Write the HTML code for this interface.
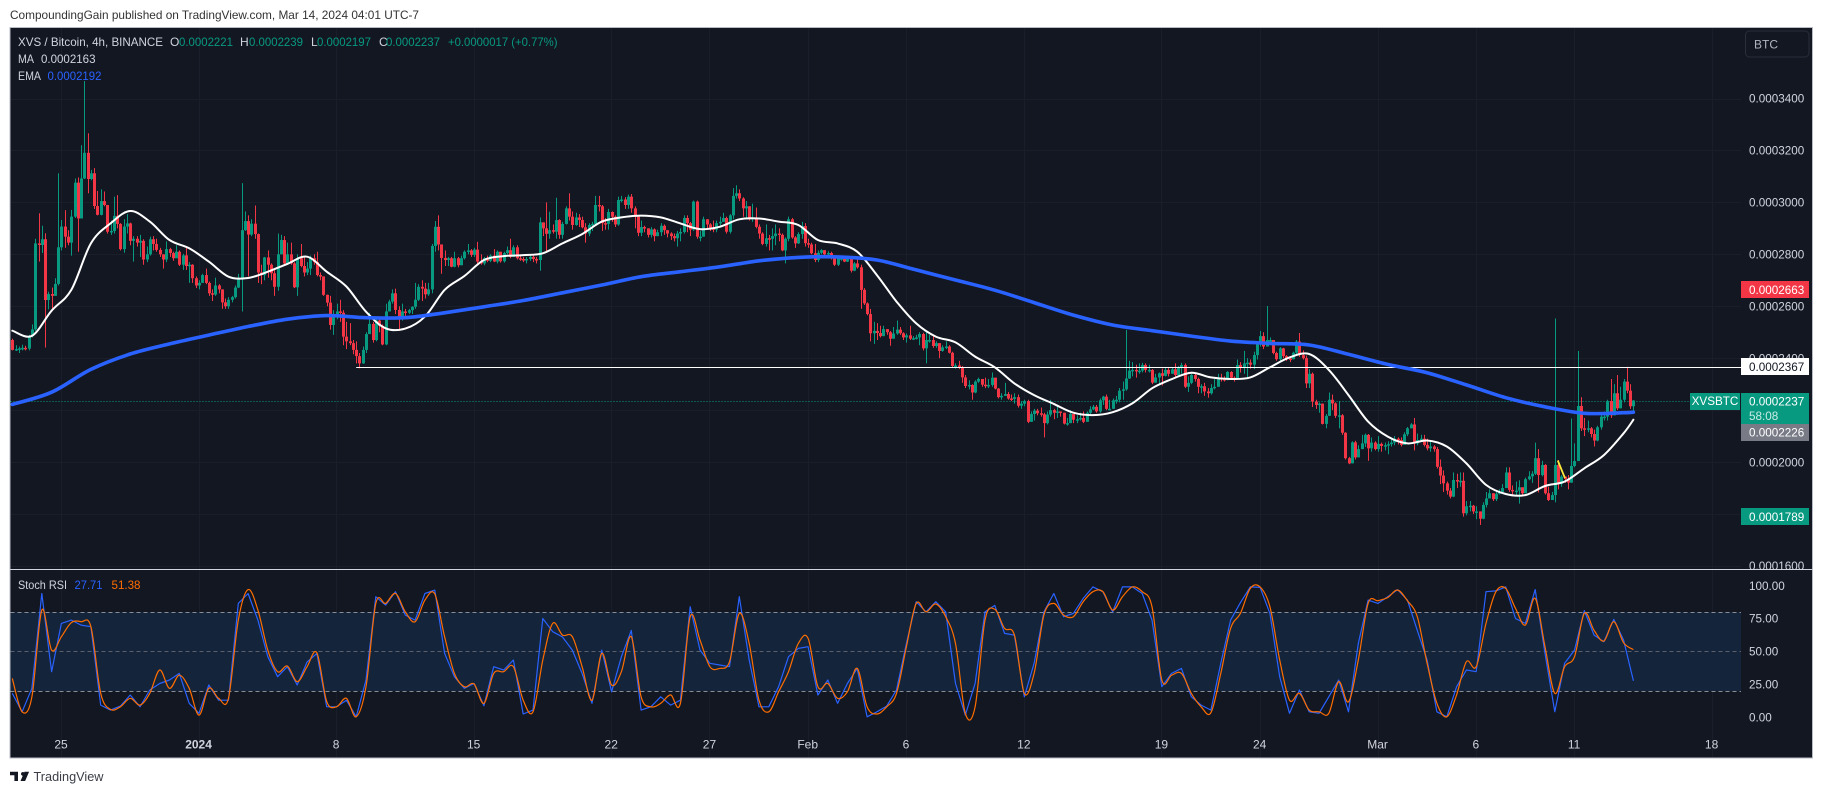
<!DOCTYPE html>
<html lang="en">
<head>
<meta charset="utf-8">
<title>XVS / Bitcoin 4h chart</title>
<style>
  html,body{margin:0;padding:0;background:#fff;width:1823px;height:794px;overflow:hidden}
  svg{display:block}
  text{font-family:"Liberation Sans",sans-serif}
</style>
</head>
<body>
<svg id="chart" xmlns="http://www.w3.org/2000/svg" width="1823" height="794" viewBox="0 0 1823 794">
  <defs>
    <clipPath id="main-clip"><rect x="10" y="28" width="1802" height="541"/></clipPath>
    <clipPath id="stoch-clip"><rect x="10" y="570" width="1802" height="187"/></clipPath>
  </defs>
  <text x="10" y="19" font-size="12" fill="#333" textLength="409" lengthAdjust="spacingAndGlyphs">CompoundingGain published on TradingView.com, Mar 14, 2024 04:01 UTC-7</text>
  <rect x="10" y="27.5" width="1802.5" height="730.5" fill="#131722" stroke="#b8bbc4" stroke-width="1"/>
  <g id="grid"></g>
  <g id="main-pane" clip-path="url(#main-clip)"></g>
  <g id="stoch-pane" clip-path="url(#stoch-clip)"></g>
  <rect x="10" y="569" width="1802.5" height="1" fill="#d1d4dc"/>
  <g id="axis"></g>

  <g font-size="12">
    <text x="18" y="46" fill="#d1d4dc" textLength="145" lengthAdjust="spacingAndGlyphs">XVS / Bitcoin, 4h, BINANCE</text>
    <text x="170" y="46" fill="#d1d4dc">O</text>
    <text x="179" y="46" fill="#089981" textLength="54" lengthAdjust="spacingAndGlyphs">0.0002221</text>
    <text x="240" y="46" fill="#d1d4dc">H</text>
    <text x="249" y="46" fill="#089981" textLength="54" lengthAdjust="spacingAndGlyphs">0.0002239</text>
    <text x="311" y="46" fill="#d1d4dc">L</text>
    <text x="317" y="46" fill="#089981" textLength="54" lengthAdjust="spacingAndGlyphs">0.0002197</text>
    <text x="379" y="46" fill="#d1d4dc">C</text>
    <text x="386" y="46" fill="#089981" textLength="54" lengthAdjust="spacingAndGlyphs">0.0002237</text>
    <text x="448" y="46" fill="#089981" textLength="109.5" lengthAdjust="spacingAndGlyphs">+0.0000017 (+0.77%)</text>
    <text x="18" y="63" fill="#d1d4dc" textLength="16" lengthAdjust="spacingAndGlyphs">MA</text>
    <text x="41" y="63" fill="#d1d4dc" textLength="54.5" lengthAdjust="spacingAndGlyphs">0.0002163</text>
    <text x="18" y="80" fill="#d1d4dc" textLength="23" lengthAdjust="spacingAndGlyphs">EMA</text>
    <text x="47.5" y="80" fill="#2962ff" textLength="54" lengthAdjust="spacingAndGlyphs">0.0002192</text>
  </g>
  <g font-size="12">
    <text x="18" y="589" fill="#d1d4dc" textLength="49" lengthAdjust="spacingAndGlyphs">Stoch RSI</text>
    <text x="74.5" y="589" fill="#2962ff" textLength="28" lengthAdjust="spacingAndGlyphs">27.71</text>
    <text x="111.5" y="589" fill="#ff6d00" textLength="29" lengthAdjust="spacingAndGlyphs">51.38</text>
  </g>

  <g>
    <rect x="1745.5" y="31" width="63.5" height="26" rx="4" fill="#131722" stroke="#2a2e39" stroke-width="1"/>
    <text x="1754" y="48.5" font-size="12" fill="#b2b5be">BTC</text>
  </g>

  <g>
    <path d="M10 771.8h8v9.2h-3.6v-5.7H10zM21 773.9a1.9 1.9 0 1 1 0 .01zM24.5 771.8h4.6l-4 9.2h-4.6z" fill="#131722"/>
    <text x="33.5" y="781" font-size="13" fill="#3a3d46" textLength="70" lengthAdjust="spacingAndGlyphs">TradingView</text>
  </g>
</svg>

<script>
// Prices are expressed in units of 0.0000001 BTC.
const firstOpen = 2470;
const closes = [
2432,2435,2438,2440,2437,2485,2511,2842,2836,2858,
2624,2647,2640,2686,2827,2907,2868,2845,2945,3076,
2938,3092,3191,3090,3112,2986,2952,3005,2990,2887,
2890,2948,2917,2820,2907,2919,2852,2860,2845,2852,
2780,2800,2858,2840,2817,2800,2780,2820,2805,2785,
2810,2760,2796,2755,2760,2708,2680,2690,2720,2690,
2650,2645,2680,2665,2615,2600,2625,2635,2672,2708,
2893,2928,2876,2918,2878,2730,2720,2788,2760,2727,
2675,2800,2855,2765,2800,2765,2673,2785,2755,2730,
2745,2785,2770,2720,2715,2644,2614,2528,2565,2580,
2575,2483,2465,2458,2432,2408,2380,2432,2493,2532,
2470,2545,2525,2453,2580,2618,2650,2586,2550,2580,
2575,2585,2598,2625,2675,2668,2646,2665,2832,2906,
2838,2786,2778,2785,
2752,2785,2758,2785,2810,2815,2798,2818,2772,2765,
2785,2775,2795,2772,2810,2773,2805,2816,2790,2827,
2785,2782,2778,2782,2790,2782,2778,2923,2900,2879,
2893,2887,2932,2875,2917,2977,2945,2913,2942,2932,
2904,2880,2913,2917,2990,2985,2920,2917,2963,2945,
2915,3009,3011,2990,3022,2977,2945,2883,2905,2900,
2875,2896,2870,2885,2910,2893,2880,2870,2862,2880,
2886,2940,2920,2895,3003,2868,2868,2935,2915,2900,
2895,2920,2925,2940,2887,2950,3025,3035,3015,2977,
2985,2935,2940,2906,2880,2840,2862,2860,2870,2880,
2875,2815,2860,2935,2865,2842,2878,2909,2843,2838,
2804,2778,2806,2816,2800,2805,2785,2760,2785,2785,
2772,2785,2737,2765,2750,2663,2611,2570,2496,2505,
2497,2485,2512,2500,2475,2495,2510,
2496,2480,2488,2475,2477,2480,2493,2438,2470,2470,
2447,2458,2428,2442,2445,2421,2370,2372,2365,2326,
2293,2297,2268,2310,2320,2298,2293,2297,2325,2283,
2250,2255,2262,2245,2243,2250,2217,2225,2235,2155,
2185,2198,2188,2184,2150,2183,2200,2190,2195,2190,
2148,2150,2185,2163,2165,2170,2155,2190,2203,2213,
2195,2238,2252,2205,2205,2238,2240,2275,2280,2322,
2352,2355,2350,2352,2374,2355,2355,2306,2326,2342,
2332,2355,2340,2357,2335,2365,2374,2290,2305,2335,
2320,2290,2292,2272,2265,2285,2290,2325,2320,2316,
2347,2325,2318,2374,2365,2380,2383,2375,2412,2455,
2485,2445,2470,2470,2420,2396,2438,2408,2399,2396,
2421,2464,2412,
2400,2303,2340,2233,2220,2225,2147,2178,2240,2226,
2178,2180,2113,2015,1995,2076,2018,2050,2072,2105,
2053,2075,2050,2070,2062,2065,2069,2075,2090,2085,
2066,2107,2130,2145,2072,2085,2090,2066,2053,2060,
2050,1982,1948,1918,1890,1867,1931,1925,1928,1803,
1830,1832,1810,1810,1782,1835,1860,1880,1857,1878,
1885,1900,1960,1893,1890,1890,1903,1880,1934,1945,
1955,2015,1950,1989,1880,1854,1873,1989,1916,1944,
1935,1921,1985,2004,2216,2130,2125,2130,2108,2083,
2134,2175,2175,2235,2180,2265,2207,2240,2310,2275,
2215,2237];
const highs = [
2475,2450,2445,2452,2448,2490,2530,2860,2958,2910,
2881,2656,2672,2708,3112,2932,2970,2893,2971,3092,
3096,3220,3467,3266,3125,3132,3044,3050,3042,2980,
2930,3022,3028,2920,2935,2955,2922,2870,2870,2875,
2858,2830,2868,2870,2860,2825,2800,2850,2825,2810,
2835,2815,2802,2825,2770,2762,2715,2700,2725,2745,
2695,2665,2710,2685,2665,2630,2635,2640,2680,2725,
3074,2965,2950,2935,2988,2880,2760,2790,2815,2765,
2745,2880,2875,2870,2845,2845,2770,2800,2840,2790,
2770,2795,2800,2810,2730,2715,2645,2640,2585,2610,
2625,2585,2540,2535,2470,2465,2420,2445,2500,2575,
2540,2560,2550,2530,2610,2625,2665,2668,2600,2610,
2590,2590,2600,2690,2685,2700,2690,2690,2840,2928,
2950,2820,2815,2790,
2790,2810,2790,2795,2815,2840,2820,2825,2848,2800,
2790,2795,2800,2820,2815,2810,2810,2830,2860,2835,
2835,2800,2790,2790,2795,2800,2790,2942,2915,3000,
2964,2915,3018,2935,2925,2985,3035,2965,2960,2955,
2945,2920,2920,2925,3025,3025,2990,2940,2975,2965,
2950,3022,3025,3020,3030,3032,2985,2950,2930,2910,
2900,2905,2900,2895,2920,2915,2890,2885,2880,2890,
2900,2950,2950,2925,3007,3007,2890,2945,2935,2920,
2930,2930,2945,2960,2945,2955,3055,3066,3050,3020,
3005,2985,2995,2980,2915,2885,2915,2875,2900,2915,
2900,2880,2865,2945,2940,2870,2885,2925,2920,2860,
2845,2840,2815,2820,2815,2812,2810,2790,2790,2795,
2790,2790,2780,2770,2780,2760,2670,2615,2590,2540,
2535,2525,2525,2510,2505,2520,2545,
2520,2500,2495,2525,2485,2490,2500,2498,2505,2490,
2490,2465,2445,2450,2465,2450,2425,2380,2390,2370,
2335,2315,2300,2315,2325,2320,2325,2320,2345,2320,
2285,2265,2305,2270,2260,2265,2260,2235,2240,2240,
2195,2205,2205,2210,2190,2195,2240,2205,2215,2195,
2190,2170,2200,2185,2180,2190,2195,2195,2215,2220,
2220,2245,2255,2260,2240,2245,2255,2285,2310,2509,
2390,2385,2375,2380,2382,2380,2375,2358,2340,2345,
2360,2365,2362,2365,2380,2370,2382,2380,2330,2340,
2340,2325,2300,2305,2285,2300,2320,2340,2340,2330,
2350,2350,2330,2395,2385,2428,2400,2395,2425,2465,
2505,2500,2601,2480,2470,2425,2443,2440,2412,2405,
2425,2470,2497,
2430,2410,2358,2345,2240,2230,2225,2185,2268,2260,
2230,2235,2185,2115,2020,2080,2082,2065,2105,2110,
2108,2095,2080,2100,2075,2075,2080,2095,2100,2095,
2095,2115,2135,2150,2170,2110,2105,2105,2090,2085,
2065,2058,2010,1968,1925,1900,1960,1955,1960,1960,
1850,1850,1835,1830,1800,1845,1885,1895,1880,1890,
1895,1915,1980,1980,1910,1925,1930,1900,1940,1965,
1965,2075,2050,2005,1992,1905,1885,2553,2008,1950,
1945,1950,2168,2072,2428,2250,2170,2160,2135,2125,
2140,2185,2195,2240,2320,2300,2335,2290,2320,2367,
2300,2239];
const lows = [
2430,2428,2420,2430,2430,2430,2480,2505,2772,2805,
2441,2588,2583,2650,2680,2815,2825,2835,2795,2940,
2810,2938,3090,3035,3085,2975,2950,2950,2985,2880,
2875,2880,2900,2815,2806,2880,2835,2772,2830,2790,
2760,2770,2795,2815,2810,2790,2745,2770,2790,2775,
2790,2755,2740,2740,2690,2690,2670,2665,2690,2685,
2640,2620,2640,2650,2590,2590,2590,2615,2630,2670,
2580,2890,2715,2870,2860,2690,2685,2700,2710,2700,
2640,2660,2800,2760,2760,2760,2670,2640,2750,2715,
2720,2720,2760,2715,2700,2640,2600,2510,2490,2550,
2540,2450,2435,2450,2415,2380,2361,2378,2420,2500,
2460,2465,2500,2450,2450,2580,2610,2570,2505,2545,
2555,2570,2570,2590,2620,2620,2630,2640,2650,2810,
2815,2725,2755,2755,
2750,2750,2750,2770,2780,2800,2790,2790,2765,2760,
2758,2770,2770,2770,2765,2768,2768,2800,2785,2790,
2780,2775,2770,2765,2775,2770,2765,2737,2870,2810,
2860,2880,2860,2860,2860,2915,2930,2895,2910,2905,
2900,2845,2870,2890,2910,2965,2890,2895,2895,2925,
2905,2910,3000,2975,2975,2960,2900,2870,2870,2885,
2865,2865,2850,2870,2870,2875,2865,2855,2850,2830,
2850,2880,2885,2870,2890,2860,2850,2875,2895,2890,
2885,2885,2910,2925,2880,2880,2935,3015,3005,2945,
2940,2930,2925,2900,2860,2835,2830,2815,2815,2835,
2850,2812,2765,2850,2860,2825,2840,2860,2830,2825,
2800,2770,2770,2800,2795,2790,2780,2755,2755,2775,
2770,2770,2730,2735,2745,2590,2605,2565,2465,2455,
2470,2480,2500,2490,2448,2480,2490,
2490,2470,2460,2470,2470,2472,2450,2430,2380,2460,
2440,2440,2400,2425,2435,2418,2365,2360,2358,2305,
2285,2280,2240,2265,2305,2290,2285,2285,2290,2280,
2245,2240,2255,2240,2235,2225,2210,2205,2215,2150,
2155,2160,2180,2175,2095,2145,2175,2165,2170,2175,
2145,2140,2150,2150,2150,2160,2150,2155,2185,2200,
2190,2190,2220,2200,2200,2205,2225,2230,2240,2275,
2320,2330,2325,2340,2345,2345,2345,2300,2305,2300,
2295,2330,2330,2345,2325,2330,2340,2285,2270,2300,
2310,2265,2265,2255,2248,2260,2280,2290,2310,2310,
2315,2320,2310,2320,2345,2340,2320,2360,2358,2395,
2445,2435,2445,2455,2415,2390,2388,2400,2390,2385,
2405,2410,2405,
2395,2285,2285,2212,2205,2190,2145,2130,2195,2200,
2170,2130,2105,2010,1992,2000,2010,2025,2055,2058,
2005,2040,2045,2040,2040,2045,2030,2060,2065,2068,
2060,2075,2100,2130,2045,2065,2080,2060,2045,2040,
2040,1975,1915,1885,1875,1860,1865,1900,1905,1790,
1795,1810,1800,1780,1758,1780,1825,1870,1850,1850,
1875,1890,1905,1885,1875,1870,1840,1870,1880,1930,
1920,1950,1883,1945,1875,1850,1855,1845,1895,1905,
1920,1895,1920,1980,2010,2120,2100,2115,2095,2060,
2080,2125,2160,2160,2170,2210,2200,2210,2230,2265,
2205,2197];

// Moving average, read every 6th candle (the last value is the final candle).
const maStep = 6;
const maValues = [
2506,2486,2583,2663,2842,2919,2967,2926,2855,2823,2772,2714,2709,2733,2763,2791,2733,2676,2579,2515,2514,2560,2663,
2716,2778,2793,2797,2804,2842,2878,2926,2942,2949,2942,2919,2897,2906,2935,2938,2926,2913,2855,2842,2810,2720,2618,
2534,2483,2461,2406,2365,2303,2258,2224,2190,2181,2192,2226,2284,2319,2344,2326,2320,2326,2365,2403,
2416,2355,2258,2156,2098,2072,2083,2060,1995,1912,1877,1873,1908,1925,1976,2027,2111,2163];

// Exponential moving average, read every 12th candle (the last value is the final candle).
const emaStep = 12;
const emaValues = [
2222,2269,2357,2416,2455,2489,2522,2550,2564,2556,2556,2575,2598,2622,2652,2682,2714,2733,2752,2775,2788,2790,
2778,2740,2701,2662,2614,2566,2528,2506,2485,2466,2457,2451,2415,2376,2344,2297,2248,2213,2188,2190,2192];

// Stoch RSI, read every 3rd candle.
const stochStep = 3;
const stochK = [
18.2,4.2,22,94,34.6,71.3,73.8,70,68.8,9.3,5.5,8.5,16.9,8,20.7,25.7,28.3,33.3,10.6,3,24.5,13,13,86.5,94,73.8,46,30.8,38.4,24.5,42,48.5,8,8,13,0.4,28.3,91.6,85.2,95.4,77.6,73.8,94,96.6,48.5,30.8,22,25.7,8.8,38.4,35.9,43.5,2.5,5.5,75,65,61,51,33.3,10.6,51,19.4,
46,66,5.5,8,15.6,9.3,13,84,51,41,39.7,38.4,91.6,43.5,8,8,23.2,46,52.3,53.6,16.9,28.3,10.6,25.7,37.1,0.4,4.2,8.5,20.7,56,87.8,80,87.8,80,25.7,1.7,25.7,80,85,63.7,62.4,15.6,41,80,94,76.4,78.9,90.3,99,95.4,80,99,99,94,73.8,23.2,33.3,37.1,15.6,9.3,5.5,
41,73.8,87,99,98.6,78.9,30.8,3,20.7,4.2,3,15.6,28.3,4.2,56,89,86.5,91.6,97,89,66,43.5,4.2,0.4,23.2,35.9,34.6,95.4,96,99,75,71.3,97,48.5,4.2,41,51,81,62.4,57.4,74.3,58.6,27.71];
const stochD = [
29.5,4.2,15.6,81.4,51,61.2,71.8,72.6,68.8,18.2,6,8,14.4,9.3,18.2,35.9,22,32,22,1.7,22,14.4,14.4,73.8,97,81.4,51,34.6,38.9,27,38.4,49,12,8,14.4,0.4,23.2,86.5,86.5,94,80,72.6,89,93.6,61.2,33.3,23.2,25.3,10.6,33.3,34.6,38.4,13,4.2,43.5,71.3,62.4,61.2,38.4,13,48.5,24.5,
34.6,61.2,15.6,8,10.6,17,10.6,76.4,58.6,38.4,37.1,42.2,78.9,56,13,4.2,19.4,34.6,56,59.9,23.2,25.7,14.4,19.4,37.1,8,2.5,8,18.2,53.6,86.5,80,86,76.4,56,3,8,73.8,82,67.5,62.4,18.2,33.3,77.6,86.5,77.6,76.4,87.8,95.4,95.4,81.4,91.6,99,95.4,84,28.3,32,33.3,18.2,8,3.5,
33.3,67.5,78.9,97.9,99,84,43.5,13,18.2,5.5,4.2,3,27,11.8,43.5,86.5,88.5,91,96.6,88.5,76.4,41,10.6,0.4,17,42.2,38.4,71.3,95.4,97.9,82.7,70,90.3,53.6,18.2,38.4,46,78.9,66,57.9,72.6,56.6,51.38];

const priceTickLabels = ['0.0003400','0.0003200','0.0003000','0.0002800','0.0002600','0.0002400','0.0002000','0.0001600'];
const gridPrices = [3400,3200,3000,2800,2600,2400,2200,2000,1800,1600];
const stochTicks = [100,75,50,25,0];
const stochLevels = [80,50,20];
const timeTickLabels = ['25','2024','8','15','22','27','Feb','6','12','19','24','Mar','6','11','18'];
const timeTickDays = [0,7,14,21,28,33,38,43,49,56,61,67,72,77,84];

const supportPrice = 2367;
const lastPrice = 2237;
const maPrice = 2226;
const resistancePrice = 2663;
const lowPrice = 1789;

const NS = 'http://www.w3.org/2000/svg';
const xScale = i => 12.3 + 3.275 * i;
const dayToIndex = d => 14.87 + 6 * d;
const yPrice = p => 98.5 + (3400 - p) * 0.2597;
const yStoch = v => 717.3 - 1.317 * v;
const snap = v => Math.round(v) + 0.5;
const priceText = p => '0.000' + p;
const GREEN = '#089981', RED = '#f23645';

function mk(tag, attrs, parent, content) {
  const el = document.createElementNS(NS, tag);
  for (const k in attrs) el.setAttribute(k, attrs[k]);
  if (content !== undefined) el.textContent = content;
  parent.appendChild(el);
  return el;
}
const gridG = document.getElementById('grid');
const mainG = document.getElementById('main-pane');
const stochG = document.getElementById('stoch-pane');
const axisG = document.getElementById('axis');

// grid
gridPrices.forEach(p => {
  const l = mk('line', {x1:10.5, x2:1741, y1:snap(yPrice(p)), y2:snap(yPrice(p)), stroke:'#1a1e2a', 'stroke-width':1}, gridG);
  
  
});
timeTickDays.forEach(d => {
  const x = snap(xScale(dayToIndex(d)));
  const l = mk('line', {x1:x, x2:x, y1:28, y2:757, stroke:'#1a1e2a', 'stroke-width':1}, gridG);
  
  
});

// price ticks
priceTickLabels.forEach(lbl => {
  const t = mk('text', {x:1749, y:yPrice(Math.round(parseFloat(lbl)*1e7)) + 4.2, 'font-size':11.7, fill:'#d1d4dc'}, mainG, lbl);
  
  
});

// last-price dotted line
const dotted = mk('line', {x1:10.5, x2:1690, y1:snap(yPrice(lastPrice)), y2:snap(yPrice(lastPrice)), stroke:GREEN, 'stroke-width':1, 'stroke-dasharray':'1 2'}, mainG);



// candles
closes.forEach((c, i) => {
  const o = i === 0 ? firstOpen : closes[i-1];
  const hi = Math.max(highs[i], o, c), lo = Math.min(lows[i], o, c);
  const col = c >= o ? GREEN : RED;
  const x = Math.round(xScale(i));
  const wick = mk('rect', {x:x, width:1, y:yPrice(hi), height:yPrice(lo)-yPrice(hi), fill:col}, mainG);
  
  
  const top = yPrice(Math.max(o,c));
  const h = Math.max(1.5, yPrice(Math.min(o,c)) - top);
  const body = mk('rect', {x:x-1, width:3, y:top, height:h, fill:col}, mainG);
  
  
});

// support line
const support = mk('line', {x1:xScale(105), x2:1741, y1:snap(yPrice(supportPrice)), y2:snap(yPrice(supportPrice)), stroke:'#ffffff', 'stroke-width':1}, mainG);



// smooth-curve helper for the indicator lines
const lastIndex = closes.length - 1;
function stepXY(vals, step, yFn) {
  return vals.map((v, j) => [xScale(Math.min(j*step, lastIndex)), yFn(v)]);
}
function smoothPath(pts) {
  let d = 'M' + pts[0][0].toFixed(1) + ' ' + pts[0][1].toFixed(1);
  for (let i = 0; i < pts.length - 1; i++) {
    const p0 = pts[Math.max(i-1, 0)], p1 = pts[i], p2 = pts[i+1], p3 = pts[Math.min(i+2, pts.length-1)];
    const c1x = p1[0] + (p2[0]-p0[0])/6, c1y = p1[1] + (p2[1]-p0[1])/6;
    const c2x = p2[0] - (p3[0]-p1[0])/6, c2y = p2[1] - (p3[1]-p1[1])/6;
    d += 'C' + c1x.toFixed(1) + ' ' + c1y.toFixed(1) + ' ' + c2x.toFixed(1) + ' ' + c2y.toFixed(1) + ' ' + p2[0].toFixed(1) + ' ' + p2[1].toFixed(1);
  }
  return d;
}

// MA, EMA
const maLine = mk('path', {d:smoothPath(stepXY(maValues, maStep, yPrice)), fill:'none', stroke:'#ffffff', 'stroke-width':2, 'stroke-linejoin':'round', 'stroke-linecap':'round'}, mainG);


const emaLine = mk('path', {d:smoothPath(stepXY(emaValues, emaStep, yPrice)), fill:'none', stroke:'#2962ff', 'stroke-width':3.6, 'stroke-linejoin':'round', 'stroke-linecap':'round'}, mainG);



// small yellow annotation
const note = mk('line', {x1:xScale(471.9), y1:yPrice(2006), x2:xScale(474.1), y2:yPrice(1938), stroke:'#ffeb3b', 'stroke-width':1.8}, mainG);



// price badges
function badge(name, price, bg, fg, text) {
  const y = yPrice(price);
  const r = mk('rect', {x:1741, y:Math.round(y-8.5), width:68, height:17, fill:bg}, mainG);
  
  
  const t = mk('text', {x:1749, y:y+4.2, 'font-size':11.7, fill:fg}, mainG, text);
  
  
}
badge('resistance-price-label', resistancePrice, RED, '#ffffff', priceText(resistancePrice));
badge('support-price-label', supportPrice, '#ffffff', '#131722', priceText(supportPrice));
badge('low-price-label', lowPrice, GREEN, '#ffffff', priceText(lowPrice));

// last price badge with countdown
const lastY = yPrice(lastPrice);
const lastBg = mk('rect', {x:1741, y:393, width:68, height:31, fill:GREEN}, mainG);


const lastText = mk('text', {x:1749, y:lastY+5, 'font-size':11.7, fill:'#ffffff'}, mainG, priceText(lastPrice));


const countdown = mk('text', {x:1749, y:lastY+19.5, 'font-size':11.7, fill:'#c9ebe4'}, mainG, '58:08');


const symBg = mk('rect', {x:1690, y:393, width:50, height:17, fill:GREEN}, mainG);


const symText = mk('text', {x:1715, y:lastY+4.5, 'font-size':11.7, fill:'#ffffff', 'text-anchor':'middle'}, mainG, 'XVSBTC');


const maBg = mk('rect', {x:1741, y:424, width:68, height:17, fill:'#787b86'}, mainG);


const maText = mk('text', {x:1749, y:436.5, 'font-size':11.7, fill:'#ffffff'}, mainG, priceText(maPrice));



// stoch band + levels
const band = mk('rect', {x:10.5, y:Math.round(yStoch(80)), width:1730.5, height:Math.round(yStoch(20))-Math.round(yStoch(80)), fill:'#14243a'}, stochG);


stochLevels.forEach(v => {
  const l = mk('line', {x1:10.5, x2:1741, y1:snap(yStoch(v)), y2:snap(yStoch(v)), stroke: v === 50 ? '#5d606b' : '#8a8d97', 'stroke-width':1, 'stroke-dasharray':'4 3'}, stochG);
  
  
});
const kLine = mk('polyline', {points:stepXY(stochK, stochStep, yStoch).map(p => p[0].toFixed(1) + ',' + p[1].toFixed(1)).join(' '), fill:'none', stroke:'#2962ff', 'stroke-width':1.2, 'stroke-linejoin':'round'}, stochG);


const dLine = mk('path', {d:smoothPath(stepXY(stochD, stochStep, yStoch)), fill:'none', stroke:'#ff6d00', 'stroke-width':1.2, 'stroke-linejoin':'round'}, stochG);



stochTicks.forEach(v => {
  const t = mk('text', {x:1749, y:yStoch(v)+4.2, 'font-size':11.7, fill:'#d1d4dc'}, axisG, v.toFixed(2));
  
  
});

// time axis
timeTickLabels.forEach((lbl, k) => {
  const attrs = {x:xScale(dayToIndex(timeTickDays[k])), y:748.5, 'font-size':12, fill:'#d1d4dc', 'text-anchor':'middle'};
  if (lbl === '2024') attrs['font-weight'] = 'bold';
  const t = mk('text', attrs, axisG, lbl);
  
  
});
</script>
</body>
</html>
